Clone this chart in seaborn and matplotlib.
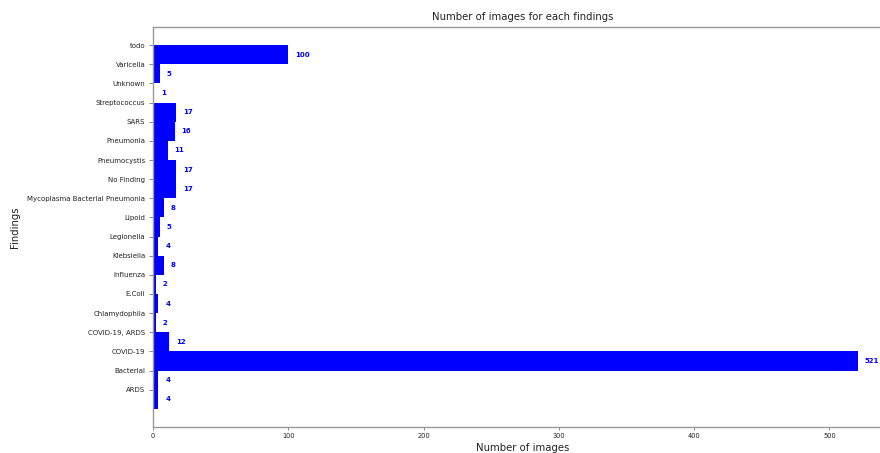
import numpy as np
import pandas as pd
import matplotlib
matplotlib.use("Agg")
import matplotlib.pyplot as plt
import seaborn as sns

findings = ["todo", "Varicella", "Unknown", "Streptococcus", "SARS", "Pneumonia",
            "Pneumocystis", "No Finding", "Mycoplasma Bacterial Pneumonia", "Lipoid",
            "Legionella", "Klebsiella", "Influenza", "E.Coli", "Chlamydophila",
            "COVID-19, ARDS", "COVID-19", "Bacterial", "ARDS"]
counts = [100, 5, 1, 17, 16, 11, 17, 17, 8, 5, 4, 8, 2, 4, 2, 12, 521, 4, 4]

sns.set_style("white")
plt.rcParams['font.family'] = ['DejaVu Sans']

fig = plt.figure(figsize=(8.8, 4.53), dpi=100)
ax = fig.add_axes([153 / 880, 26 / 453, 740 / 880, 400 / 453])

pos = np.arange(len(findings))
df = pd.DataFrame({"pos": pos + 0.5, "count": counts})
sns.barplot(data=df, x="count", y="pos", orient="h", native_scale=True,
            width=1.0, color="#0000ff", saturation=1, linewidth=0, ax=ax)

ax.set_yticks(pos)
ax.set_yticklabels(findings, fontsize=5, color="#222222")
ax.set_ylim(len(findings) + 0.95, -0.95)
ax.set_xlim(0, max(counts) * 1.05)
ax.set_xticks([0, 100, 200, 300, 400, 500])
ax.set_xticklabels(["0", "100", "200", "300", "400", "500"], fontsize=4.8, color="#222222")
ax.tick_params(axis="x", length=2.5, width=0.7, color="#888888", pad=1.5)
ax.tick_params(axis="y", length=3, width=0.7, color="#888888", pad=2.5)
ax.xaxis.set_ticks_position("bottom")
ax.yaxis.set_ticks_position("left")

for s in ax.spines.values():
    s.set_visible(True)
    s.set_color("#999999")
    s.set_linewidth(1.0)

for p, c in zip(pos, counts):
    ax.text(c + 5, p + 0.5, str(c), color="#0000ff", fontsize=5,
            fontweight="bold", ha="left", va="center")

ax.set_title("Number of images for each findings", fontsize=7.3, color="#222222", pad=5)
ax.set_xlabel("Number of images", fontsize=7.3, color="#222222", labelpad=3)
ax.set_ylabel("Findings", fontsize=7.3, color="#222222")
ax.yaxis.set_label_coords((20 - 153) / 740, 0.5)

fig.savefig("out.png", dpi=100)
